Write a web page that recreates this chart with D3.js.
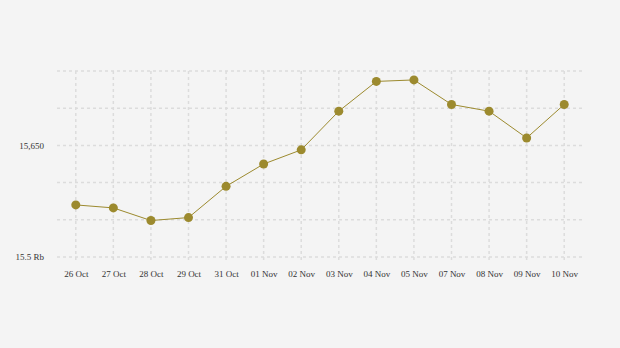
<!DOCTYPE html>
<html>
<head>
<meta charset="utf-8">
<script src="https://cdn.jsdelivr.net/npm/d3@7"></script>
<style>
  html, body { margin: 0; padding: 0; background: #f4f4f4; }
  svg { display: block; }
  text { font-family: "Liberation Serif", "Times New Roman", serif; font-size: 9px; fill: #333; }
</style>
</head>
<body>
<svg width="620" height="348"></svg>
<script>
// data
const dates = ["26 Oct", "27 Oct", "28 Oct", "29 Oct", "31 Oct", "01 Nov", "02 Nov",
  "03 Nov", "04 Nov", "05 Nov", "07 Nov", "08 Nov", "09 Nov", "10 Nov"];
const prices = [15570, 15566, 15549, 15553, 15595, 15625, 15644,
  15696, 15736, 15738, 15705, 15696, 15660, 15705];
const yTicks = [15500, 15550, 15600, 15650, 15700, 15750];
const yLabels = { 15500: "15.5 Rb", 15650: "15,650" };

const svg = d3.select("svg");
const margin = { top: 71, right: 37, bottom: 91, left: 57 };
const width = +svg.attr("width") - margin.left - margin.right;
const height = +svg.attr("height") - margin.top - margin.bottom;

const g = svg.append("g").attr("transform", `translate(${margin.left},${margin.top})`);

const x = d3.scalePoint().domain(dates).range([0, width]).padding(0.5);
const y = d3.scaleLinear().domain([15500, 15750]).range([height, 0]);

const gridStyle = sel => sel
  .attr("stroke", "#dcdcdc")
  .attr("stroke-width", 1.5)
  .attr("stroke-dasharray", "3,3");

// horizontal grid
g.append("g")
  .selectAll("line")
  .data(yTicks)
  .enter()
  .append("line")
  .attr("x1", 0)
  .attr("x2", width)
  .attr("y1", d => y(d))
  .attr("y2", d => y(d))
  .call(gridStyle);

// vertical grid
g.append("g")
  .selectAll("line")
  .data(dates)
  .enter()
  .append("line")
  .attr("x1", d => x(d))
  .attr("x2", d => x(d))
  .attr("y1", 0)
  .attr("y2", height + 5)
  .call(gridStyle);

// axes (labels only)
const yAxis = d3.axisLeft(y).tickValues(yTicks)
  .tickFormat(d => yLabels[d] || "").tickSize(0).tickPadding(13);
const ya = g.append("g").call(yAxis);
ya.select(".domain").remove();
ya.selectAll("text").attr("fill", "#2a2a2a");

const xAxis = d3.axisBottom(x).tickSize(0).tickPadding(14);
const xa = g.append("g").attr("transform", `translate(0,${height})`).call(xAxis);
xa.select(".domain").remove();
xa.selectAll("text").attr("fill", "#2a2a2a");

// line
const line = d3.line()
  .x((d, i) => x(dates[i]))
  .y(d => y(d));

g.append("path")
  .datum(prices)
  .attr("fill", "none")
  .attr("stroke", "#9c8a2e")
  .attr("stroke-width", 1)
  .attr("d", line);

g.selectAll("circle")
  .data(prices)
  .enter()
  .append("circle")
  .attr("cx", (d, i) => x(dates[i]))
  .attr("cy", d => y(d))
  .attr("r", 4.5)
  .attr("fill", "#9c8a2e");
</script>
</body>
</html>
